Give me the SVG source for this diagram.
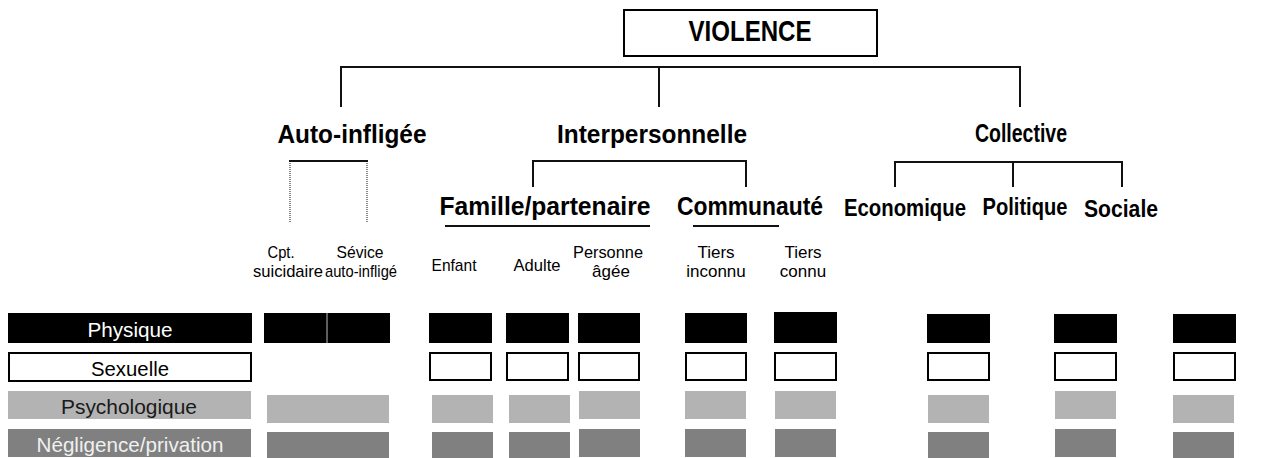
<svg xmlns="http://www.w3.org/2000/svg" width="1267" height="458" viewBox="0 0 1267 458">
<style>
text{font-family:"Liberation Sans",Arial,sans-serif;text-anchor:middle}
.h{font-weight:bold;font-size:26px;fill:#000}
.h2{font-weight:bold;font-size:23px;fill:#000}
.t{font-weight:bold;font-size:30px;fill:#000}
.s{font-size:17px;fill:#000}
.lg{font-size:21px}
.phys{fill:#000}
.sex{fill:#fff;stroke:#000;stroke-width:2}
.psy{fill:#b3b3b3}
.neg{fill:#808080}
.conn{fill:none;stroke:#111;stroke-width:2}
.dot{fill:none;stroke:#111;stroke-width:1;stroke-dasharray:1 1}
</style>
<rect width="1267" height="458" fill="#fff"/>
<g id="connectors">
<path class="conn" d="M341,107 V67 H1020 V107 M659,67 V107"/>
<path class="conn" d="M289,161 H368"/>
<path class="dot" d="M290,161 V223 M367,161 V223"/>
<path class="conn" d="M533,187 V161 H746 V187"/>
<path class="conn" d="M445,226 H650 M693,226 H779"/>
<path class="conn" d="M895,187 V162 H1122 V187 M1013,162 V187"/>
</g>
<g id="violence">
<rect x="624" y="10" width="253" height="46" fill="#fff" stroke="#000" stroke-width="2"/>
<text class="t" x="750" y="41" textLength="123" lengthAdjust="spacingAndGlyphs">VIOLENCE</text>
</g>
<g id="auto-infligee"><text class="h" x="352" y="143" textLength="149" lengthAdjust="spacingAndGlyphs">Auto-infligée</text></g>
<g id="interpersonnelle"><text class="h" x="652" y="143" textLength="190" lengthAdjust="spacingAndGlyphs">Interpersonnelle</text></g>
<g id="collective"><text class="h" x="1021" y="142" textLength="92" lengthAdjust="spacingAndGlyphs">Collective</text></g>
<g id="famille"><text class="h" x="545" y="215" textLength="211" lengthAdjust="spacingAndGlyphs">Famille/partenaire</text></g>
<g id="communaute"><text class="h" x="750" y="215" textLength="146" lengthAdjust="spacingAndGlyphs">Communauté</text></g>
<g id="economique"><text class="h2" x="905" y="216" textLength="122" lengthAdjust="spacingAndGlyphs">Economique</text></g>
<g id="politique"><text class="h2" x="1025" y="215" textLength="85" lengthAdjust="spacingAndGlyphs">Politique</text></g>
<g id="sociale"><text class="h2" x="1121" y="217" textLength="74" lengthAdjust="spacingAndGlyphs">Sociale</text></g>

<g id="cpt-suicidaire"><text class="s" x="281" y="258" textLength="27" lengthAdjust="spacingAndGlyphs">Cpt.</text><text class="s" x="288" y="277" textLength="70" lengthAdjust="spacingAndGlyphs">suicidaire</text></g>
<g id="sevice"><text class="s" x="360" y="258" textLength="47" lengthAdjust="spacingAndGlyphs">Sévice</text><text class="s" x="361" y="277" textLength="72" lengthAdjust="spacingAndGlyphs">auto-infligé</text></g>
<g id="enfant"><text class="s" x="454" y="271" textLength="45" lengthAdjust="spacingAndGlyphs">Enfant</text></g>
<g id="adulte"><text class="s" x="537" y="271" textLength="47" lengthAdjust="spacingAndGlyphs">Adulte</text></g>
<g id="personne-agee"><text class="s" x="608" y="258" textLength="70" lengthAdjust="spacingAndGlyphs">Personne</text><text class="s" x="611" y="277">âgée</text></g>
<g id="tiers-inconnu"><text class="s" x="716" y="258">Tiers</text><text class="s" x="716" y="277">inconnu</text></g>
<g id="tiers-connu"><text class="s" x="803" y="258">Tiers</text><text class="s" x="803" y="277">connu</text></g>

<g id="legend-physique"><rect class="phys" x="8" y="313" width="244" height="30"/><text class="lg" x="130" y="337" fill="#fff" textLength="85" lengthAdjust="spacingAndGlyphs">Physique</text></g>
<g id="legend-sexuelle"><rect class="sex" x="9" y="353" width="242" height="28"/><text class="lg" x="130" y="376" fill="#000" textLength="78" lengthAdjust="spacingAndGlyphs">Sexuelle</text></g>
<g id="legend-psychologique"><rect class="psy" x="8" y="391" width="243" height="28"/><text class="lg" x="129" y="414" fill="#1a1a1a" textLength="136" lengthAdjust="spacingAndGlyphs">Psychologique</text></g>
<g id="legend-negligence"><rect class="neg" x="8" y="429" width="243" height="28"/><text class="lg" x="130" y="452" fill="#f0f0f0" textLength="187" lengthAdjust="spacingAndGlyphs">Négligence/privation</text></g>

<g id="col-auto">
<rect class="phys" x="264" y="313" width="126" height="30"/>
<line x1="327" y1="313" x2="327" y2="343" stroke="#bbb" stroke-width="1"/>
<rect class="psy" x="267" y="395" width="122" height="28"/>
<rect class="neg" x="267" y="432" width="122" height="26"/>
</g>
<g id="col-enfant">
<rect class="phys" x="429" y="313" width="63" height="30"/>
<rect class="sex" x="430" y="353" width="61" height="27"/>
<rect class="psy" x="432" y="395" width="61" height="28"/>
<rect class="neg" x="432" y="432" width="61" height="26"/>
</g>
<g id="col-adulte">
<rect class="phys" x="506" y="313" width="63" height="30"/>
<rect class="sex" x="507" y="353" width="61" height="27"/>
<rect class="psy" x="509" y="395" width="61" height="28"/>
<rect class="neg" x="509" y="432" width="61" height="26"/>
</g>
<g id="col-personne">
<rect class="phys" x="578" y="313" width="62" height="30"/>
<rect class="sex" x="579" y="353" width="60" height="27"/>
<rect class="psy" x="579" y="391" width="61" height="28"/>
<rect class="neg" x="579" y="429" width="61" height="28"/>
</g>
<g id="col-tiers-inconnu">
<rect class="phys" x="685" y="313" width="62" height="30"/>
<rect class="sex" x="686" y="353" width="60" height="27"/>
<rect class="psy" x="685" y="391" width="61" height="28"/>
<rect class="neg" x="685" y="429" width="61" height="28"/>
</g>
<g id="col-tiers-connu">
<rect class="phys" x="774" y="312" width="63" height="31"/>
<rect class="sex" x="775" y="353" width="61" height="27"/>
<rect class="psy" x="775" y="391" width="61" height="28"/>
<rect class="neg" x="775" y="429" width="61" height="28"/>
</g>
<g id="col-economique">
<rect class="phys" x="927" y="314" width="63" height="29"/>
<rect class="sex" x="928" y="353" width="61" height="27"/>
<rect class="psy" x="928" y="395" width="61" height="28"/>
<rect class="neg" x="928" y="432" width="61" height="26"/>
</g>
<g id="col-politique">
<rect class="phys" x="1054" y="314" width="63" height="29"/>
<rect class="sex" x="1055" y="353" width="61" height="27"/>
<rect class="psy" x="1055" y="391" width="61" height="28"/>
<rect class="neg" x="1055" y="429" width="61" height="28"/>
</g>
<g id="col-sociale">
<rect class="phys" x="1173" y="314" width="63" height="29"/>
<rect class="sex" x="1174" y="353" width="61" height="27"/>
<rect class="psy" x="1173" y="395" width="61" height="28"/>
<rect class="neg" x="1173" y="432" width="61" height="26"/>
</g>
</svg>
